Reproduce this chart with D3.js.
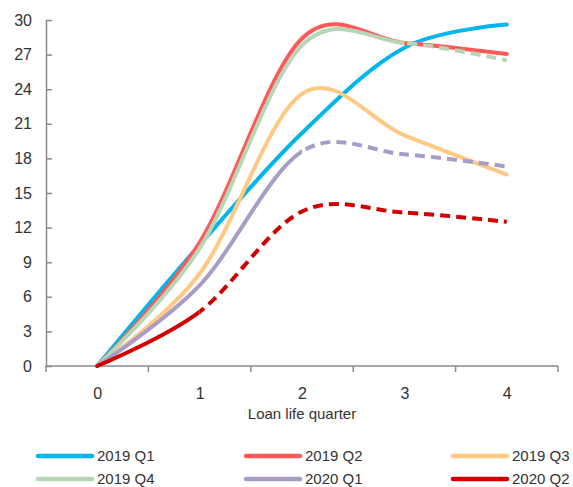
<!DOCTYPE html>
<html>
<head>
<meta charset="utf-8">
<script src="https://cdn.jsdelivr.net/npm/d3@7"></script>
<style>
  html, body { margin: 0; padding: 0; background: #fff; }
  svg { display: block; font-family: "Liberation Sans", Arial, sans-serif; }
</style>
</head>
<body>
<svg id="chart" width="573" height="487"></svg>
<script>
// Loan life quarters on the x axis
const quarters = ["0", "1", "2", "3", "4"];
const yTicks = [0, 3, 6, 9, 12, 15, 18, 21, 24, 27, 30];

// Cohorts by origination quarter
const cohorts = ["2019 Q1", "2019 Q2", "2019 Q3", "2019 Q4", "2020 Q1", "2020 Q2"];
const cohort2019Q1 = [0, 10.5, 20.2, 27.6, 29.6];
const cohort2019Q2 = [0, 10.7, 28.4, 28.0, 27.05];
const cohort2019Q3 = [0, 8.0, 23.6, 20.0, 16.6];
const cohort2019Q4 = [0, 10.2, 27.8, 28.0, 26.5];
const cohort2020Q1 = [0, 7.0, 18.6, 18.35, 17.3];
const cohort2020Q2 = [0, 4.7, 13.4, 13.3, 12.5];
// First quarter from which each cohort is a projection (dashed); null = fully observed
const projectedFrom = [null, null, null, 3, 2, 1];

const colors = ["#00b6ea", "#ff5a5a", "#ffc983", "#b6d6b6", "#a99cc6", "#d10000"];
const values = [cohort2019Q1, cohort2019Q2, cohort2019Q3, cohort2019Q4, cohort2020Q1, cohort2020Q2];

const svg = d3.select("#chart");
const textColor = "#333";
const axisColor = "#8a8a8a";

const x = d3.scalePoint().domain(quarters).range([46, 558]).padding(0.5);
const y = d3.scaleLinear().domain([0, 30]).range([366, 20]);

// Y axis with inward ticks
const yAxis = svg.append("g").attr("transform", "translate(46,0)")
  .call(d3.axisLeft(y).tickValues(yTicks).tickSize(-6).tickPadding(14).tickSizeOuter(0));
yAxis.select(".domain").attr("stroke", axisColor).attr("stroke-width", 1.5);
yAxis.selectAll(".tick line").attr("stroke", axisColor).attr("stroke-width", 1.5);
yAxis.selectAll("text").attr("fill", textColor).attr("font-size", 16)
  .attr("font-family", "Liberation Sans, Arial, sans-serif");

// X axis: labels at quarter centres, tick marks on the boundaries between quarters
const xAxis = svg.append("g").attr("transform", "translate(0,366)")
  .call(d3.axisBottom(x).tickSize(0).tickPadding(22).tickSizeOuter(0));
xAxis.select(".domain").remove();
xAxis.selectAll("text").attr("fill", textColor).attr("font-size", 16)
  .attr("font-family", "Liberation Sans, Arial, sans-serif");
const step = x.step();
const edges = d3.range(quarters.length + 1).map(i => x(quarters[0]) - step / 2 + i * step);
xAxis.append("line").attr("x1", edges[0]).attr("x2", edges[edges.length - 1])
  .attr("stroke", axisColor).attr("stroke-width", 1.5);
xAxis.selectAll(".edge").data(edges).join("line").attr("class", "edge")
  .attr("x1", d => d).attr("x2", d => d).attr("y1", 0).attr("y2", 6)
  .attr("stroke", axisColor).attr("stroke-width", 1.5);

svg.append("text").attr("x", x("2")).attr("y", 419).attr("text-anchor", "middle")
  .attr("fill", textColor).attr("font-size", 15).text("Loan life quarter");

// Smoothed lines; projected part drawn dashed by clipping the same curve
const line = d3.line()
  .x((d, i) => x(quarters[i]))
  .y(d => y(d))
  .curve(d3.curveCardinal.tension(0));

const defs = svg.append("defs");
const plot = svg.append("g");
values.forEach((vals, s) => {
  const split = projectedFrom[s];
  const path = line(vals);
  if (split === null) {
    plot.append("path").attr("d", path).attr("fill", "none")
      .attr("stroke", colors[s]).attr("stroke-width", 4).attr("stroke-linecap", "round");
  } else {
    const sx = x(quarters[split]);
    defs.append("clipPath").attr("id", "solid" + s).append("rect")
      .attr("x", 0).attr("y", 0).attr("width", sx).attr("height", 487);
    defs.append("clipPath").attr("id", "dash" + s).append("rect")
      .attr("x", sx).attr("y", 0).attr("width", 573 - sx).attr("height", 487);
    plot.append("path").attr("d", path).attr("fill", "none")
      .attr("clip-path", `url(#solid${s})`)
      .attr("stroke", colors[s]).attr("stroke-width", 4).attr("stroke-linecap", "round");
    plot.append("path").attr("d", path).attr("fill", "none")
      .attr("clip-path", `url(#dash${s})`)
      .attr("stroke", colors[s]).attr("stroke-width", 4)
      .attr("stroke-dasharray", "10,6");
  }
});

// Legend: three columns, two rows
const legendX = [38, 246, 453];
const legendY = [456, 479];
const legend = svg.append("g");
cohorts.forEach((name, i) => {
  const lx = legendX[i % 3], ly = legendY[Math.floor(i / 3)];
  legend.append("line").attr("x1", lx).attr("x2", lx + 54).attr("y1", ly).attr("y2", ly)
    .attr("stroke", colors[i]).attr("stroke-width", 4.5).attr("stroke-linecap", "round");
  legend.append("text").attr("x", lx + 59).attr("y", ly).attr("dy", "0.3em")
    .attr("fill", textColor).attr("font-size", 15).text(name);
});
</script>
</body>
</html>
